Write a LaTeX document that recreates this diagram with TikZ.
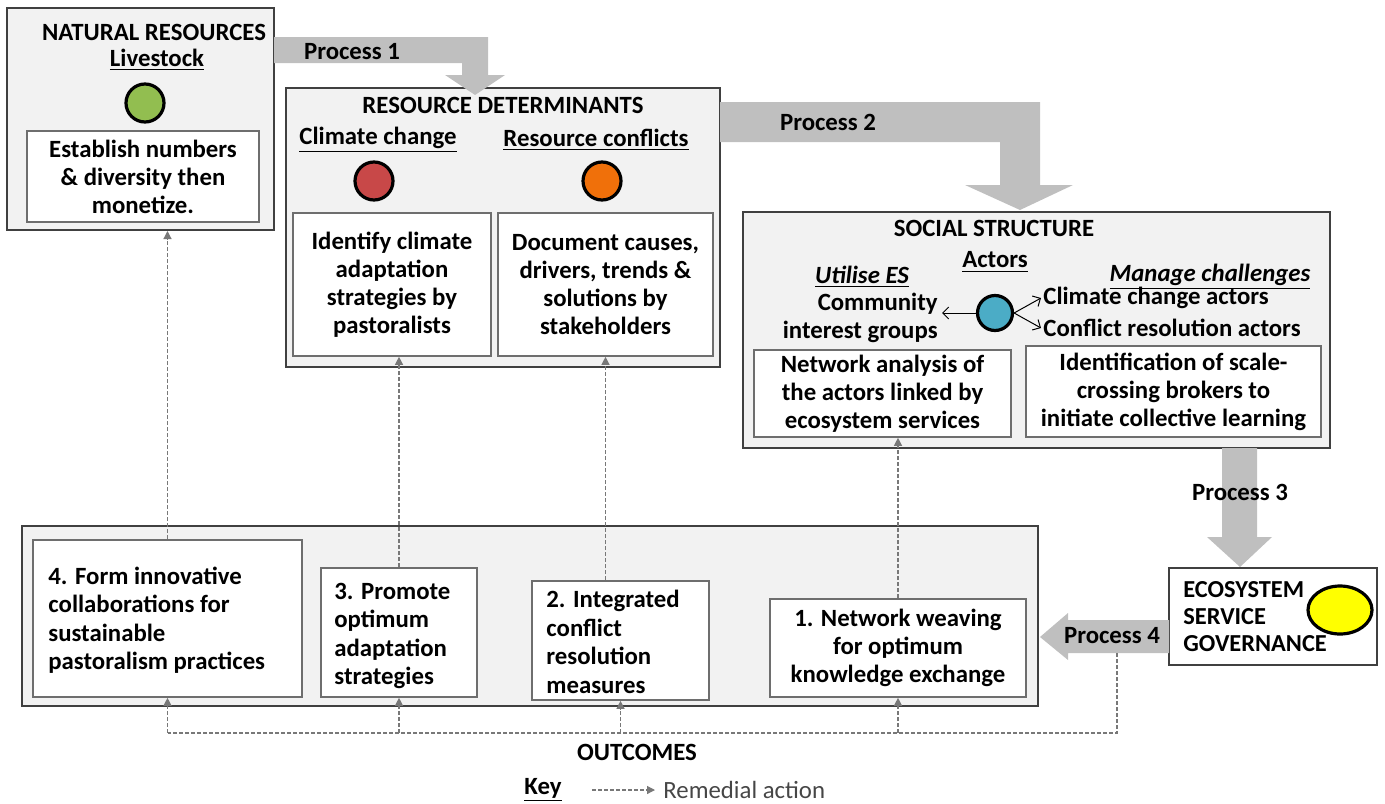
\documentclass[tikz,border=0pt]{standalone}
\usepackage{fontspec}
\setmainfont{Carlito}
\usetikzlibrary{arrows.meta,positioning,calc,fit,shapes.geometric}
\definecolor{panelfill}{RGB}{242,242,242}
\definecolor{panelline}{RGB}{64,64,64}
\definecolor{cardline}{RGB}{110,110,110}
\definecolor{procgray}{RGB}{191,191,191}
\definecolor{remgray}{RGB}{120,120,120}
\definecolor{keytext}{RGB}{70,70,70}
\definecolor{livegreen}{RGB}{146,190,80}
\definecolor{climred}{RGB}{200,72,72}
\definecolor{conforange}{RGB}{240,112,10}
\definecolor{actblue}{RGB}{75,172,198}
\definecolor{govyellow}{RGB}{255,255,0}

\begin{document}
\begin{tikzpicture}[x=0.5pt,y=-0.5pt,
  panel/.style={draw=panelline,line width=1pt,fill=panelfill,inner sep=0pt},
  card/.style={draw=cardline,line width=0.8pt,fill=white,inner sep=0pt},
  txt/.style={font=\fontsize{12.4}{14}\selectfont\bfseries,inner sep=0pt,align=center},
  lefttxt/.style={txt,align=left,anchor=west,font=\fontsize{12.4}{14.25}\selectfont\bfseries},
  blob/.style={circle,draw=black,line width=1.6pt,minimum size=19pt,inner sep=0pt},
  proc/.style={fill=procgray},
  remedy/.style={draw=remgray,line width=0.6pt,dash pattern=on 2pt off 1pt,
    -{Triangle[length=4pt,width=4pt,fill=remgray]}},
  tie/.style={-{Straight Barb[length=3pt]},line width=0.5pt}]
\useasboundingbox (0,0) rectangle (1385,803);

% panels
\node[panel,fit={(7,8) (274,230)}] (nr) {};
\node[panel,fit={(286,88) (720,367)}] (rd) {};
\node[panel,fit={(743,212) (1330,448)}] (ss) {};
\node[panel,fit={(22,526) (1038,706)}] (oc) {};
\node[card,draw=panelline,line width=1pt,fit={(1169,568) (1377,665)}] (esg) {};

% process arrows
\fill[proc] (274,37) -- (488,37) -- (488,75) -- (505,75) -- (475,95) -- (445,75)
  -- (462,75) -- (462,63) -- (274,63) -- cycle;
\fill[proc] (720,102) -- (1040,102) -- (1040,185) -- (1073,185) -- (1020,210)
  -- (965,185) -- (1000,185) -- (1000,142) -- (720,142) -- cycle;
\fill[proc] (1222,448) -- (1257,448) -- (1257,537) -- (1272,537) -- (1240,567)
  -- (1207,537) -- (1222,537) -- cycle;
\fill[proc] (1169,620) -- (1068,620) -- (1068,613) -- (1040,637) -- (1068,660)
  -- (1068,653) -- (1169,653) -- cycle;
\node[txt] (p1) at (352,52) {Process 1};
\node[txt] (p2) at (828,122) {Process 2};
\node[txt] (p3) at (1240,492) {Process 3};
\node[txt] (p4) at (1112,636) {Process 4};

% natural resources
\node[txt] (nrh) at (154,32) {NATURAL RESOURCES};
\node[txt] (nrl) at (157,60) {\underline{Livestock}};
\node[blob,fill=livegreen] (nrb) at (145,103) {};
\node[card,fit={(27,131) (259,222)}] (nrc) {};
\node[txt] (nrct) at (nrc.center) {Establish numbers\\\& diversity then\\monetize.};

% resource determinants
\node[txt] (rdh) at (503,105) {RESOURCE DETERMINANTS};
\node[txt] (cch) at (378,140) {\underline{Climate change}};
\node[txt] (rch) at (596,140) {\underline{Resource conflicts}};
\node[blob,fill=climred] (ccb) at (374,181) {};
\node[blob,fill=conforange] (rcb) at (602,181) {};
\node[card,fit={(293,213) (491,356)}] (cc) {};
\node[card,fit={(498,213) (713,356)}] (rc) {};
\node[txt] (cct) at (cc.center) {Identify climate\\adaptation\\strategies by\\pastoralists};
\node[txt] (rct) at (rc.center) {Document causes,\\drivers, trends \&\\solutions by\\stakeholders};

% social structure
\node[txt] (ssh) at (994,228) {SOCIAL STRUCTURE};
\node[txt] (act) at (995,262) {\underline{Actors}};
\node[txt] (use) at (862,277) {\underline{\itshape Utilise ES}};
\node[txt] (mch) at (1210,277) {\underline{\itshape Manage challenges}};
\node[txt,align=right,anchor=east] (cig) at (938,318) {Community\\interest groups};
\node[blob,fill=actblue,minimum size=17.5pt] (actb) at (995,313) {};
\node[txt,anchor=west] (cca) at (1043,298) {Climate change actors};
\node[txt,anchor=west] (cra) at (1043,328) {Conflict resolution actors};
\draw[tie] (actb.west) -- ($(cig.east |- actb)+(4,0)$);
\draw[tie] (actb.east) -- ($(cca.west)+(-2,0)$);
\draw[tie] (actb.east) -- ($(cra.west)+(-2,0)$);
\node[card,fit={(754,350) (1011,437)}] (na) {};
\node[card,fit={(1026,346) (1321,437)}] (sb) {};
\node[txt] (nat) at (na.center) {Network analysis of\\the actors linked by\\ecosystem services};
\node[txt] (sbt) at (sb.center) {Identification of scale-\\crossing brokers to\\initiate collective learning};

% governance
\node[lefttxt,font=\fontsize{12.2}{13.5}\selectfont\bfseries] (esgt) at (1183,617) {ECOSYSTEM\\SERVICE\\GOVERNANCE};
\node[ellipse,draw=black,line width=1.6pt,fill=govyellow,minimum width=32pt,minimum height=24pt,inner sep=0pt] (esgb) at (1340,610) {};

% outcomes
\node[card,fit={(33,540) (302,697)}] (o4) {};
\node[card,fit={(321,568) (477,697)}] (o3) {};
\node[card,fit={(532,581) (709,700)}] (o2) {};
\node[card,fit={(770,599) (1026,697)}] (o1) {};
\node[lefttxt] (o4t) at (48,620) {4. Form innovative\\collaborations for\\sustainable\\pastoralism practices};
\node[lefttxt] (o3t) at (334,636) {3. Promote\\optimum\\adaptation\\strategies};
\node[lefttxt] (o2t) at (546,642) {2. Integrated\\conflict\\resolution\\measures};
\node[txt] (o1t) at (898,648) {1. Network weaving\\for optimum\\knowledge exchange};
\node[txt] (oct) at (637,752) {OUTCOMES};

% remedial actions
\draw[remedy] (o4.north) -- (o4.north |- nr.south);
\draw[remedy] (o3.north) -- (o3.north |- cc.south);
\draw[remedy] (rc.south |- o2.north) -- (rc.south);
\draw[remedy] (o1.north) -- (o1.north |- na.south);
\coordinate (p4foot) at (1117,653);
\coordinate (bus) at (1117,733);
\draw[remedy,-] (p4foot) -- (bus) -- (bus -| o4.south);
\foreach \b in {o4,o3,o2,o1}
  \draw[remedy] (bus -| \b.south) -- (\b.south);

% key
\node[txt] (key) at (543,790) {\underline{Key}};
\node[txt,font=\fontsize{12.4}{14}\selectfont,text=keytext,anchor=west] (rem) at (663,790) {Remedial action};
\coordinate (k0) at (592,790);
\draw[remedy] (k0) -- ($(rem.west)+(-8,0)$);
\end{tikzpicture}
\end{document}
